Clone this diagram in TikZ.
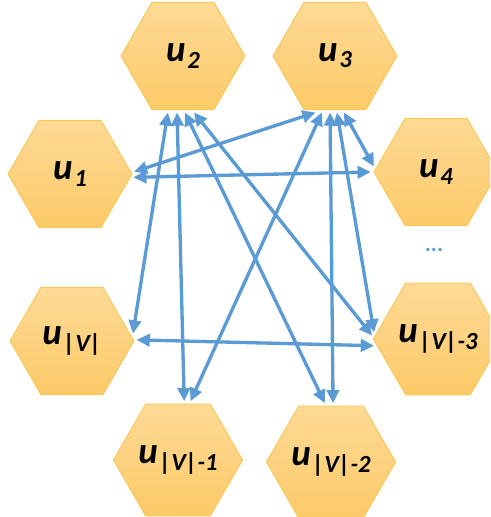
\documentclass[tikz,border=0pt]{standalone}
\usepackage{fontspec}
\setmainfont{Carlito}
\usepackage{tikz}
\usetikzlibrary{shapes.geometric,arrows.meta}
\definecolor{hextop}{RGB}{254,218,150}
\definecolor{hexbottom}{RGB}{252,202,104}
\definecolor{hexline}{RGB}{250,198,86}
\definecolor{linkblue}{RGB}{91,155,213}
% node label: bold italic u with a lowered index
\newcommand{\ulabel}[1]{{\fontsize{21}{21}\selectfont\bfseries\itshape u\kern1pt\raisebox{-0.35ex}{\fontsize{14}{14}\selectfont #1}}}

\begin{document}
\begin{tikzpicture}[x=0.02cm,y=-0.02cm,
    hexnode/.style={regular polygon,regular polygon sides=6,minimum size=2.48cm,
        inner sep=0pt,outer sep=1.6pt,top color=hextop,bottom color=hexbottom,
        draw=hexline,line width=0.5pt},
    link/.style={draw=linkblue,line width=1.9pt,
        {Triangle[length=7.5pt,width=7pt]}-{Triangle[length=7.5pt,width=7pt]}}]
\useasboundingbox (0,0) rectangle (490,517);
\clip (0,0) rectangle (490,517);
% ring of vertices
\node[hexnode] (u2) at (183,56) {\ulabel{2}};
\node[hexnode] (u3) at (335,56) {\ulabel{3}};
\node[hexnode] (u1) at (70,174) {\ulabel{1}};
\node[hexnode] (u4) at (436,172) {\ulabel{4}};
\node[hexnode] (uV) at (72,341) {\ulabel{|V|}};
\node[hexnode] (uV3) at (438,339) {\ulabel{|V|-3}};
\node[hexnode] (uV1) at (178,460) {\ulabel{|V|-1}};
\node[hexnode] (uV2) at (331,462) {\ulabel{|V|-2}};
\node[text=linkblue,font=\fontsize{13}{13}\selectfont\bfseries] (dots) at (434,250) {...};
% edges from u2
\draw[link] (u2.-105.6) -- (uV.7.5);
\draw[link] (u2.-96.4) -- (uV1.84.8);
\draw[link] (u2.-88) -- (uV2.96);
\draw[link] (u2.-79.5) -- (uV3.177);
% edges from u3
\draw[link] (u3.-109.5) -- (u1.2);
\draw[link] (u3.-103.6) -- (uV1.78.7);
\draw[link] (u3.-95.3) -- (uV2.88);
\draw[link] (u3.-88) -- (uV3.174);
\draw[link] (u3.-81.5) -- (u4.175.7);
% side edges
\draw[link] (u1.-3.6) -- (u4.180);
\draw[link] (uV.1) -- (uV3.-174.4);
\end{tikzpicture}
\end{document}
